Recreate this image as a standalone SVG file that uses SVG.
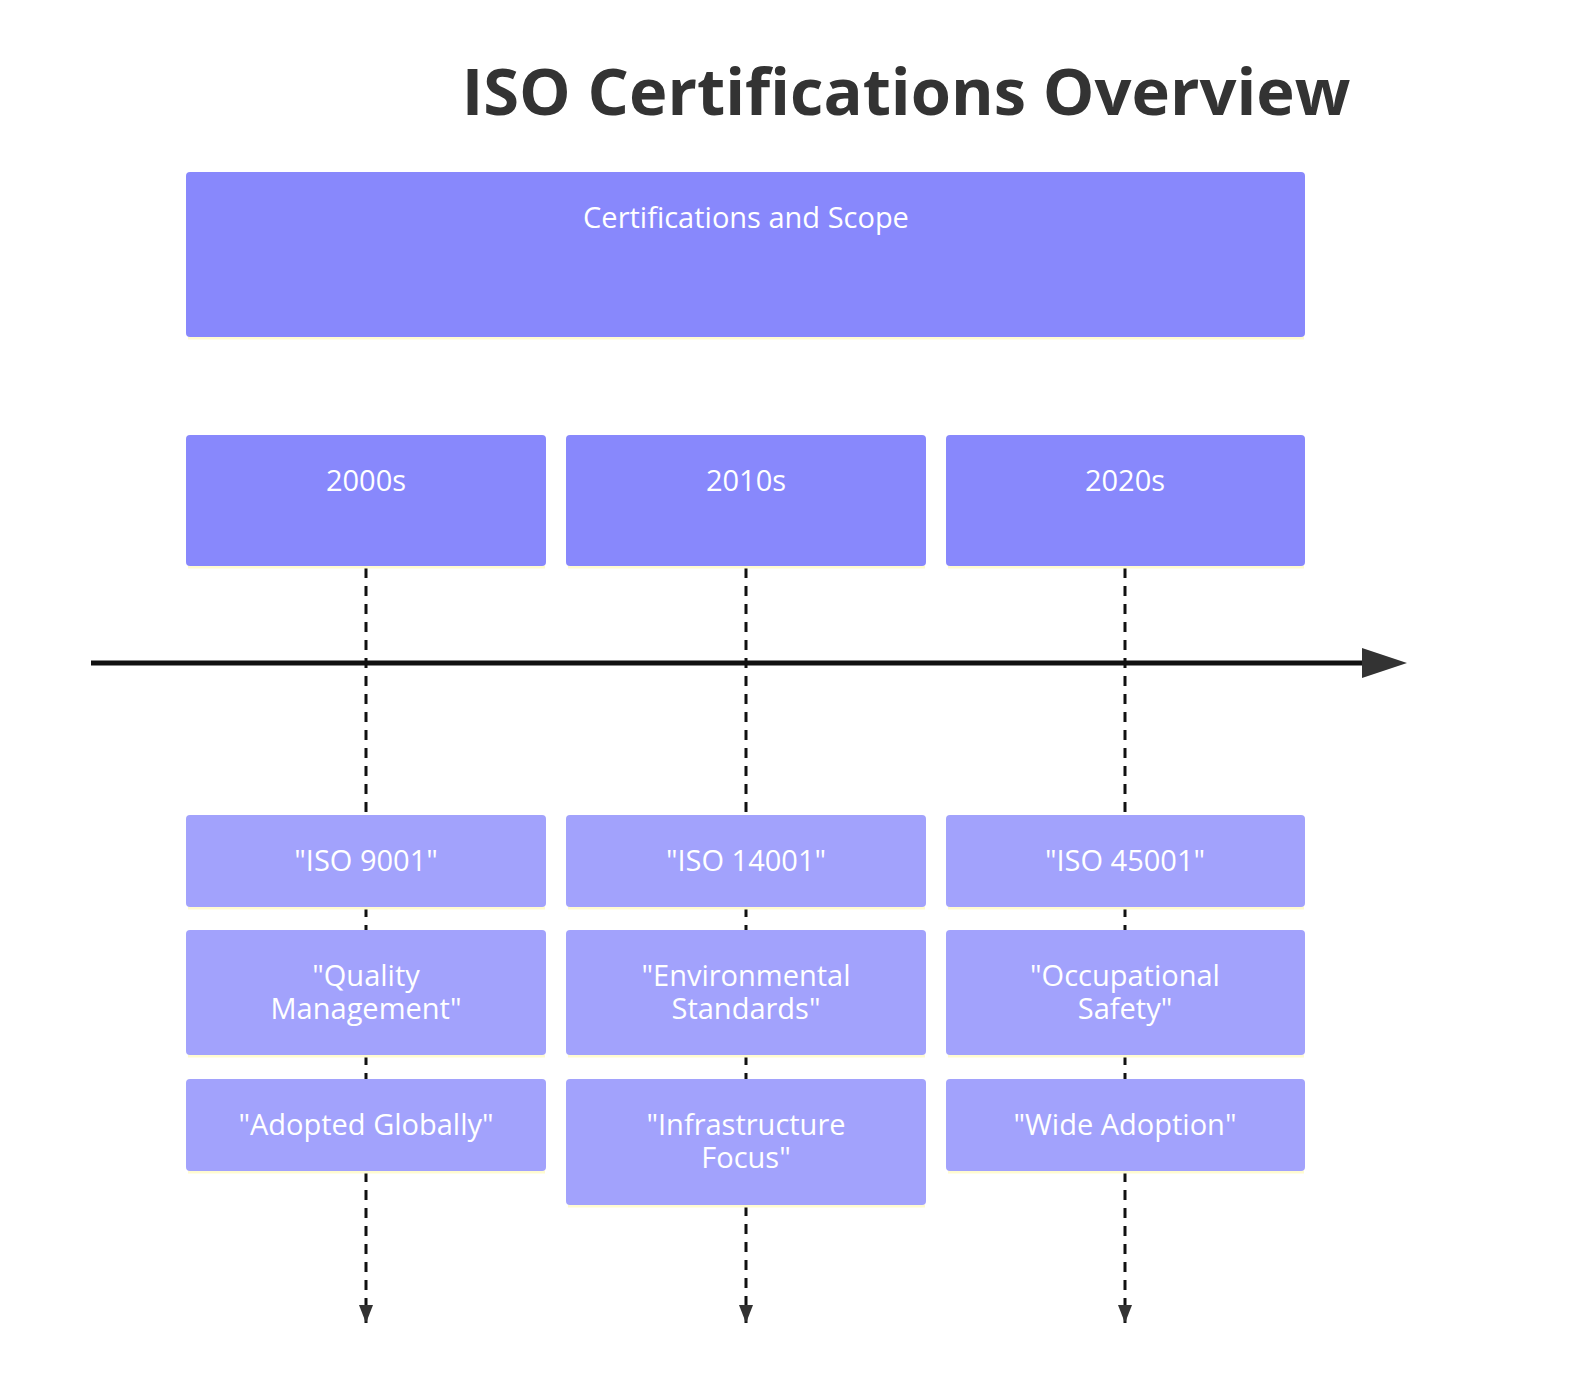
<svg xmlns="http://www.w3.org/2000/svg" width="1592" height="1396" viewBox="0 0 1592 1396">
<style>
.t{font-family:"Open Sans","Noto Sans",sans-serif;fill:#fff;font-size:29px;text-anchor:middle}
.p{fill:#8888fc}
.e{fill:#a2a2fc}
.u{stroke:#fffbd0;stroke-width:3}
.d{stroke:#111;stroke-width:3;stroke-dasharray:10 8;fill:none}
</style>
<defs>
<marker id="ah" markerWidth="20" markerHeight="20" refX="18" refY="8" orient="auto" markerUnits="userSpaceOnUse" viewBox="0 0 20 20"><path d="M0,1 L18,8 L0,15 Z" fill="#333"/></marker>
</defs>
<rect width="1592" height="1396" fill="#fff"/>
<text x="906" y="115" font-family="'Open Sans','Noto Sans',sans-serif" font-size="65" font-weight="bold" fill="#333" text-anchor="middle">ISO Certifications Overview</text>
<g id="connectors">
<line class="d" x1="366" y1="568" x2="366" y2="815"/>
<line class="d" x1="746" y1="568" x2="746" y2="815"/>
<line class="d" x1="1125" y1="568" x2="1125" y2="815"/>
<line class="d" x1="366" y1="907" x2="366" y2="930"/>
<line class="d" x1="746" y1="907" x2="746" y2="930"/>
<line class="d" x1="1125" y1="907" x2="1125" y2="930"/>
<line class="d" x1="366" y1="1055" x2="366" y2="1079"/>
<line class="d" x1="746" y1="1055" x2="746" y2="1079"/>
<line class="d" x1="1125" y1="1055" x2="1125" y2="1079"/>
<line class="d" x1="366" y1="1172" x2="366" y2="1323" marker-end="url(#ah)"/>
<line class="d" x1="746" y1="1206" x2="746" y2="1323" marker-end="url(#ah)"/>
<line class="d" x1="1125" y1="1172" x2="1125" y2="1323" marker-end="url(#ah)"/>
<line x1="91" y1="663" x2="1365" y2="663" stroke="#111" stroke-width="5"/>
<path d="M1362,648 L1407,663 L1362,678 Z" fill="#333"/>
</g>
<g id="section"><line class="u" x1="188" y1="338" x2="1304" y2="338"/><rect class="p" x="186" y="172" width="1119" height="165" rx="4"/><text class="t" x="746" y="228">Certifications and Scope</text></g>
<g id="p2000"><line class="u" x1="188" y1="567" x2="545" y2="567"/><rect class="p" x="186" y="435" width="360" height="131" rx="4"/><text class="t" x="366" y="491">2000s</text></g>
<g id="p2010"><line class="u" x1="568" y1="567" x2="925" y2="567"/><rect class="p" x="566" y="435" width="360" height="131" rx="4"/><text class="t" x="746" y="491">2010s</text></g>
<g id="p2020"><line class="u" x1="948" y1="567" x2="1304" y2="567"/><rect class="p" x="946" y="435" width="359" height="131" rx="4"/><text class="t" x="1125" y="491">2020s</text></g>
<g id="e1"><line class="u" x1="188" y1="908" x2="545" y2="908"/><rect class="e" x="186" y="815" width="360" height="92" rx="4"/><text class="t" x="366" y="871">"ISO 9001"</text></g>
<g id="e2"><line class="u" x1="568" y1="908" x2="925" y2="908"/><rect class="e" x="566" y="815" width="360" height="92" rx="4"/><text class="t" x="746" y="871">"ISO 14001"</text></g>
<g id="e3"><line class="u" x1="948" y1="908" x2="1304" y2="908"/><rect class="e" x="946" y="815" width="359" height="92" rx="4"/><text class="t" x="1125" y="871">"ISO 45001"</text></g>
<g id="e4"><line class="u" x1="188" y1="1056" x2="545" y2="1056"/><rect class="e" x="186" y="930" width="360" height="125" rx="4"/><text class="t" x="366" y="986">"Quality</text><text class="t" x="366" y="1019">Management"</text></g>
<g id="e5"><line class="u" x1="568" y1="1056" x2="925" y2="1056"/><rect class="e" x="566" y="930" width="360" height="125" rx="4"/><text class="t" x="746" y="986">"Environmental</text><text class="t" x="746" y="1019">Standards"</text></g>
<g id="e6"><line class="u" x1="948" y1="1056" x2="1304" y2="1056"/><rect class="e" x="946" y="930" width="359" height="125" rx="4"/><text class="t" x="1125" y="986">"Occupational</text><text class="t" x="1125" y="1019">Safety"</text></g>
<g id="e7"><line class="u" x1="188" y1="1172" x2="545" y2="1172"/><rect class="e" x="186" y="1079" width="360" height="92" rx="4"/><text class="t" x="366" y="1135">"Adopted Globally"</text></g>
<g id="e8"><line class="u" x1="568" y1="1206" x2="925" y2="1206"/><rect class="e" x="566" y="1079" width="360" height="126" rx="4"/><text class="t" x="746" y="1135">"Infrastructure</text><text class="t" x="746" y="1168">Focus"</text></g>
<g id="e9"><line class="u" x1="948" y1="1172" x2="1304" y2="1172"/><rect class="e" x="946" y="1079" width="359" height="92" rx="4"/><text class="t" x="1125" y="1135">"Wide Adoption"</text></g>
</svg>
